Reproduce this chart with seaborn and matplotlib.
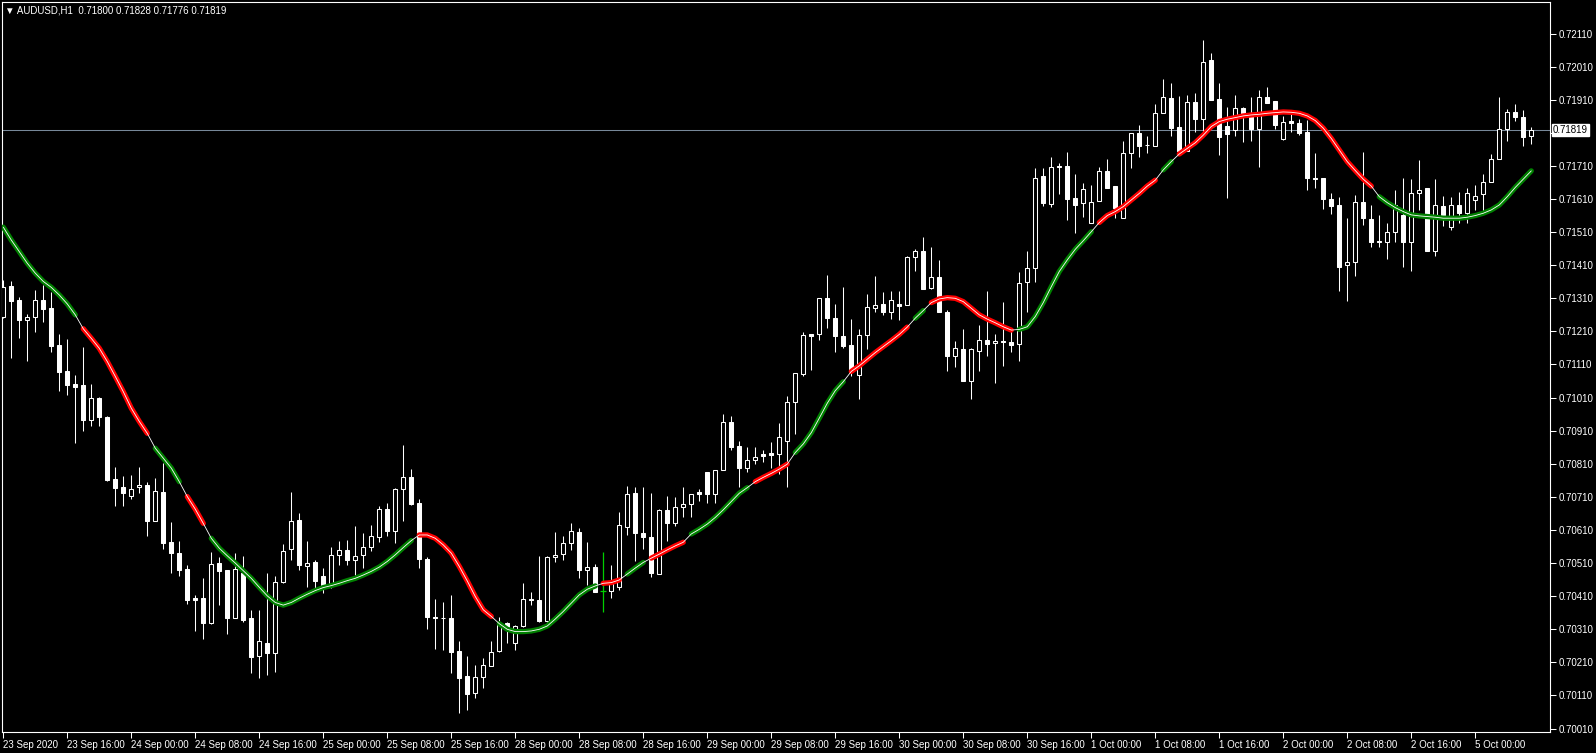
import numpy as np
import pandas as pd
import seaborn as sns
import matplotlib
matplotlib.use("Agg")
import matplotlib.pyplot as plt

# AUDUSD H1 candles, 23 Sep 2020 08:00 -> 5 Oct 2020 07:00
opens = [0.71253, 0.71347, 0.71305, 0.71245, 0.71253, 0.71304, 0.71280, 0.71168, 0.71090, 0.71051,
         0.71048, 0.70941, 0.71008, 0.70952, 0.70764, 0.70740, 0.70714, 0.70739, 0.70746, 0.70638,
         0.70725, 0.70574, 0.70542, 0.70492, 0.70404, 0.70405, 0.70330, 0.70509, 0.70489, 0.70345,
         0.70479, 0.70344, 0.70230, 0.70269, 0.70238, 0.70452, 0.70552, 0.70641, 0.70501, 0.70512,
         0.70470, 0.70440, 0.70534, 0.70550, 0.70518, 0.70534, 0.70558, 0.70590, 0.70674, 0.70608,
         0.70733, 0.70770, 0.70691, 0.70523, 0.70348, 0.70345, 0.70345, 0.70245, 0.70169, 0.70117,
         0.70165, 0.70198, 0.70243, 0.70330, 0.70268, 0.70321, 0.70401, 0.70399, 0.70336, 0.70528,
         0.70536, 0.70570, 0.70604, 0.70488, 0.70499, 0.70426, 0.70426, 0.70439, 0.70620, 0.70721,
         0.70600, 0.70588, 0.70476, 0.70671, 0.70632, 0.70679, 0.70688, 0.70726, 0.70785, 0.70719,
         0.70790, 0.70936, 0.70864, 0.70797, 0.70820, 0.70839, 0.70842, 0.70839, 0.70880, 0.70996,
         0.71082, 0.71201, 0.71201, 0.71310, 0.71250, 0.71196, 0.71168, 0.71077, 0.71199, 0.71280,
         0.71293, 0.71270, 0.71293, 0.71291, 0.71434, 0.71452, 0.71340, 0.71374, 0.71269, 0.71137,
         0.71157, 0.71061, 0.71152, 0.71184, 0.71174, 0.71180, 0.71179, 0.71171, 0.71359, 0.71401,
         0.71680, 0.71594, 0.71710, 0.71710, 0.71612, 0.71597, 0.71539, 0.71605, 0.71695, 0.71649,
         0.71554, 0.71748, 0.71808, 0.71773, 0.71771, 0.71869, 0.71914, 0.71827, 0.71756, 0.71902,
         0.71853, 0.72030, 0.71911, 0.71831, 0.71819, 0.71884, 0.71869, 0.71820, 0.71917, 0.71906,
         0.71791, 0.71846, 0.71841, 0.71811, 0.71674, 0.71674, 0.71611, 0.71591, 0.71411, 0.71421,
         0.71600, 0.71550, 0.71483, 0.71479, 0.71511, 0.71562, 0.71481, 0.71627, 0.71642, 0.71454,
         0.71589, 0.71525, 0.71591, 0.71569, 0.71607, 0.71624, 0.71660, 0.71730, 0.71821, 0.71872,
         0.71857, 0.71800]
highs = [0.71366, 0.71363, 0.71315, 0.71263, 0.71335, 0.71350, 0.71330, 0.71201, 0.71187, 0.71079,
         0.71164, 0.71051, 0.71013, 0.70955, 0.70800, 0.70773, 0.70776, 0.70800, 0.70754, 0.70766,
         0.70812, 0.70633, 0.70577, 0.70505, 0.70414, 0.70464, 0.70545, 0.70528, 0.70489, 0.70540,
         0.70530, 0.70369, 0.70369, 0.70479, 0.70471, 0.70568, 0.70724, 0.70661, 0.70577, 0.70520,
         0.70495, 0.70560, 0.70577, 0.70580, 0.70622, 0.70600, 0.70626, 0.70683, 0.70691, 0.70736,
         0.70867, 0.70794, 0.70703, 0.70527, 0.70402, 0.70392, 0.70414, 0.70276, 0.70228, 0.70203,
         0.70223, 0.70276, 0.70347, 0.70332, 0.70322, 0.70449, 0.70424, 0.70532, 0.70530, 0.70603,
         0.70592, 0.70631, 0.70617, 0.70573, 0.70508, 0.70543, 0.70505, 0.70664, 0.70743, 0.70739,
         0.70741, 0.70721, 0.70674, 0.70713, 0.70711, 0.70741, 0.70718, 0.70733, 0.70785, 0.70792,
         0.70960, 0.70953, 0.70879, 0.70860, 0.70860, 0.70852, 0.70877, 0.70934, 0.71015, 0.71084,
         0.71208, 0.71201, 0.71310, 0.71381, 0.71293, 0.71345, 0.71248, 0.71217, 0.71323, 0.71378,
         0.71330, 0.71332, 0.71333, 0.71438, 0.71458, 0.71494, 0.71464, 0.71426, 0.71275, 0.71182,
         0.71217, 0.71161, 0.71229, 0.71332, 0.71202, 0.71299, 0.71216, 0.71390, 0.71453, 0.71705,
         0.71703, 0.71738, 0.71720, 0.71751, 0.71686, 0.71659, 0.71652, 0.71708, 0.71730, 0.71649,
         0.71785, 0.71810, 0.71834, 0.71800, 0.71897, 0.71972, 0.71959, 0.71921, 0.71924, 0.71929,
         0.72090, 0.72052, 0.71960, 0.71887, 0.71924, 0.71887, 0.71917, 0.71939, 0.71947, 0.71906,
         0.71861, 0.71869, 0.71851, 0.71849, 0.71750, 0.71674, 0.71629, 0.71615, 0.71554, 0.71622,
         0.71753, 0.71592, 0.71562, 0.71539, 0.71637, 0.71673, 0.71670, 0.71728, 0.71642, 0.71670,
         0.71620, 0.71615, 0.71632, 0.71642, 0.71652, 0.71685, 0.71746, 0.71919, 0.71881, 0.71897,
         0.71879, 0.71828]
lows = [0.71250, 0.71131, 0.71191, 0.71122, 0.71209, 0.71237, 0.71149, 0.71031, 0.71018, 0.70874,
        0.70910, 0.70925, 0.70925, 0.70759, 0.70684, 0.70684, 0.70703, 0.70721, 0.70593, 0.70638,
        0.70552, 0.70479, 0.70472, 0.70387, 0.70306, 0.70280, 0.70325, 0.70382, 0.70295, 0.70345,
        0.70333, 0.70177, 0.70162, 0.70172, 0.70182, 0.70449, 0.70520, 0.70489, 0.70439, 0.70429,
        0.70419, 0.70435, 0.70505, 0.70503, 0.70475, 0.70495, 0.70548, 0.70575, 0.70592, 0.70572,
        0.70636, 0.70686, 0.70495, 0.70311, 0.70250, 0.70248, 0.70177, 0.70057, 0.70067, 0.70102,
        0.70134, 0.70198, 0.70241, 0.70270, 0.70248, 0.70318, 0.70382, 0.70332, 0.70331, 0.70512,
        0.70520, 0.70550, 0.70465, 0.70444, 0.70424, 0.70361, 0.70406, 0.70429, 0.70595, 0.70515,
        0.70552, 0.70469, 0.70476, 0.70578, 0.70623, 0.70648, 0.70648, 0.70699, 0.70691, 0.70691,
        0.70790, 0.70852, 0.70741, 0.70786, 0.70809, 0.70815, 0.70797, 0.70779, 0.70739, 0.70900,
        0.71075, 0.71094, 0.71184, 0.71219, 0.71149, 0.71159, 0.71075, 0.71007, 0.71158, 0.71270,
        0.71260, 0.71247, 0.71245, 0.71291, 0.71391, 0.71339, 0.71337, 0.71269, 0.71089, 0.71101,
        0.71061, 0.71005, 0.71089, 0.71136, 0.71055, 0.71106, 0.71149, 0.71122, 0.71270, 0.71358,
        0.71589, 0.71587, 0.71625, 0.71547, 0.71508, 0.71557, 0.71539, 0.71605, 0.71644, 0.71552,
        0.71552, 0.71705, 0.71738, 0.71748, 0.71771, 0.71869, 0.71800, 0.71756, 0.71756, 0.71813,
        0.71813, 0.71909, 0.71743, 0.71614, 0.71801, 0.71783, 0.71786, 0.71706, 0.71901, 0.71821,
        0.71788, 0.71813, 0.71803, 0.71637, 0.71642, 0.71580, 0.71565, 0.71333, 0.71303, 0.71376,
        0.71530, 0.71466, 0.71466, 0.71428, 0.71479, 0.71406, 0.71391, 0.71577, 0.71453, 0.71439,
        0.71527, 0.71515, 0.71539, 0.71539, 0.71577, 0.71569, 0.71660, 0.71730, 0.71786, 0.71847,
        0.71771, 0.71776]
closes = [0.71343, 0.71303, 0.71243, 0.71253, 0.71304, 0.71277, 0.71167, 0.71086, 0.71049, 0.71043,
          0.70941, 0.71008, 0.70951, 0.70761, 0.70738, 0.70723, 0.70733, 0.70745, 0.70638, 0.70728,
          0.70572, 0.70539, 0.70489, 0.70399, 0.70400, 0.70330, 0.70508, 0.70487, 0.70345, 0.70492,
          0.70338, 0.70225, 0.70274, 0.70237, 0.70452, 0.70548, 0.70637, 0.70505, 0.70510, 0.70456,
          0.70437, 0.70535, 0.70550, 0.70518, 0.70532, 0.70558, 0.70592, 0.70674, 0.70608, 0.70734,
          0.70770, 0.70689, 0.70522, 0.70346, 0.70345, 0.70343, 0.70240, 0.70164, 0.70115, 0.70165,
          0.70202, 0.70241, 0.70324, 0.70315, 0.70321, 0.70401, 0.70397, 0.70336, 0.70528, 0.70534,
          0.70570, 0.70607, 0.70488, 0.70499, 0.70424, 0.70426, 0.70452, 0.70625, 0.70719, 0.70600,
          0.70588, 0.70479, 0.70671, 0.70632, 0.70679, 0.70689, 0.70718, 0.70718, 0.70719, 0.70792,
          0.70936, 0.70862, 0.70797, 0.70822, 0.70832, 0.70835, 0.70838, 0.70890, 0.70996, 0.71084,
          0.71198, 0.71197, 0.71310, 0.71249, 0.71197, 0.71166, 0.71092, 0.71198, 0.71283, 0.71289,
          0.71270, 0.71305, 0.71288, 0.71434, 0.71452, 0.71339, 0.71373, 0.71269, 0.71137, 0.71160,
          0.71061, 0.71156, 0.71184, 0.71172, 0.71181, 0.71179, 0.71169, 0.71355, 0.71401, 0.71672,
          0.71597, 0.71706, 0.71706, 0.71611, 0.71593, 0.71639, 0.71602, 0.71695, 0.71644, 0.71582,
          0.71748, 0.71808, 0.71771, 0.71773, 0.71871, 0.71917, 0.71826, 0.71756, 0.71902, 0.71853,
          0.72025, 0.71909, 0.71798, 0.71806, 0.71884, 0.71866, 0.71820, 0.71919, 0.71901, 0.71834,
          0.71842, 0.71841, 0.71809, 0.71672, 0.71671, 0.71609, 0.71590, 0.71406, 0.71421, 0.71600,
          0.71552, 0.71481, 0.71479, 0.71511, 0.71592, 0.71481, 0.71627, 0.71637, 0.71453, 0.71591,
          0.71555, 0.71591, 0.71569, 0.71629, 0.71619, 0.71660, 0.71730, 0.71821, 0.71872, 0.71859,
          0.71798, 0.71819]

# smoothed line drawn over the candles
ma_line = [0.71525, 0.71486, 0.71451, 0.71416, 0.71386, 0.71361, 0.71343, 0.71320, 0.71293, 0.71260,
           0.71218, 0.71189, 0.71159, 0.71119, 0.71074, 0.71028, 0.70978, 0.70938, 0.70902, 0.70857,
           0.70827, 0.70797, 0.70756, 0.70711, 0.70673, 0.70630, 0.70585, 0.70555, 0.70532, 0.70510,
           0.70487, 0.70464, 0.70437, 0.70411, 0.70391, 0.70383, 0.70391, 0.70404, 0.70416, 0.70427,
           0.70436, 0.70442, 0.70449, 0.70457, 0.70464, 0.70474, 0.70485, 0.70498, 0.70515, 0.70535,
           0.70557, 0.70578, 0.70595, 0.70595, 0.70585, 0.70565, 0.70540, 0.70500, 0.70456, 0.70409,
           0.70369, 0.70349, 0.70327, 0.70310, 0.70303, 0.70303, 0.70305, 0.70310, 0.70320, 0.70341,
           0.70364, 0.70389, 0.70414, 0.70431, 0.70441, 0.70449, 0.70451, 0.70459, 0.70477, 0.70495,
           0.70512, 0.70525, 0.70537, 0.70550, 0.70562, 0.70573, 0.70598, 0.70612, 0.70628, 0.70648,
           0.70671, 0.70696, 0.70721, 0.70738, 0.70756, 0.70769, 0.70781, 0.70794, 0.70809, 0.70844,
           0.70870, 0.70904, 0.70948, 0.70993, 0.71031, 0.71058, 0.71089, 0.71106, 0.71126, 0.71146,
           0.71164, 0.71182, 0.71201, 0.71223, 0.71250, 0.71273, 0.71297, 0.71308, 0.71312, 0.71310,
           0.71300, 0.71280, 0.71260, 0.71247, 0.71236, 0.71224, 0.71214, 0.71216, 0.71224, 0.71255,
           0.71297, 0.71345, 0.71391, 0.71426, 0.71458, 0.71484, 0.71511, 0.71539, 0.71560, 0.71572,
           0.71587, 0.71607, 0.71627, 0.71649, 0.71667, 0.71698, 0.71723, 0.71746, 0.71763, 0.71780,
           0.71803, 0.71829, 0.71844, 0.71851, 0.71856, 0.71861, 0.71864, 0.71866, 0.71869, 0.71871,
           0.71873, 0.71872, 0.71869, 0.71861, 0.71847, 0.71824, 0.71793, 0.71758, 0.71723, 0.71696,
           0.71670, 0.71649, 0.71617, 0.71599, 0.71584, 0.71572, 0.71562, 0.71559, 0.71557, 0.71555,
           0.71552, 0.71552, 0.71552, 0.71555, 0.71560, 0.71567, 0.71577, 0.71592, 0.71617, 0.71645,
           0.71670, 0.71695]
# (first bar, last bar, colour) of the coloured pieces of the line
ma_parts = [(0, 9, "green"), (10, 18, "red"), (19, 22, "green"), (23, 25, "red"),
            (26, 51, "green"), (52, 61, "red"), (62, 74, "green"), (75, 77, "red"),
            (78, 80, "green"), (81, 85, "red"), (86, 93, "green"), (94, 98, "red"),
            (99, 105, "green"), (106, 113, "red"), (114, 115, "green"), (116, 126, "red"),
            (127, 136, "green"), (137, 144, "red"), (145, 146, "green"), (147, 171, "red"),
            (172, 191, "green")]
marked_bar = 75

date_labels = ["23 Sep 2020", "23 Sep 16:00", "24 Sep 00:00", "24 Sep 08:00", "24 Sep 16:00",
               "25 Sep 00:00", "25 Sep 08:00", "25 Sep 16:00", "28 Sep 00:00", "28 Sep 08:00",
               "28 Sep 16:00", "29 Sep 00:00", "29 Sep 08:00", "29 Sep 16:00", "30 Sep 00:00",
               "30 Sep 08:00", "30 Sep 16:00", "1 Oct 00:00", "1 Oct 08:00", "1 Oct 16:00",
               "2 Oct 00:00", "2 Oct 08:00", "2 Oct 16:00", "5 Oct 00:00"]
price_ticks = [0.70010, 0.70110, 0.70210, 0.70310, 0.70410, 0.70510, 0.70610, 0.70710,
               0.70810, 0.70910, 0.71010, 0.71110, 0.71210, 0.71310, 0.71410, 0.71510,
               0.71610, 0.71710, 0.71810, 0.71910, 0.72010, 0.72110]
bid = 0.71819
header = "\u25bc AUDUSD,H1  0.71800 0.71828 0.71776 0.71819"

sns.set_theme(style="dark")
plt.rcParams["font.family"] = ["Liberation Sans", "DejaVu Sans"]

W, H = 1596, 753
fig = plt.figure(figsize=(W / 100, H / 100), dpi=100, facecolor="black")
ax = fig.add_axes([2 / W, (H - 731.5) / H, 1548 / W, 729.5 / H])
ax.set_facecolor("black")

df = pd.DataFrame({"bar": np.arange(len(closes)), "open": opens, "high": highs,
                   "low": lows, "close": closes})
normal = df[df.bar != marked_bar]
up = normal.close >= normal.open

# wicks then bodies (bull = hollow, bear = white)
ax.vlines(normal.bar, normal.low, normal.high, color="white", lw=0.75, zorder=2)
body_lo = np.minimum(normal.open, normal.close)
body_h = np.maximum((normal.close - normal.open).abs(), 0.000004)
ax.bar(normal.bar, body_h, bottom=body_lo, width=0.5,
       color=np.where(up, "black", "white"), edgecolor="white", linewidth=0.75, zorder=3)

mk = df[df.bar == marked_bar].iloc[0]
ax.vlines(mk.bar, mk.low, mk.high, color="#00d000", lw=0.9, zorder=3)
ax.hlines(mk.open, mk.bar - 0.35, mk.bar + 0.35, color="#00d000", lw=0.9, zorder=3)

ax.axhline(bid, color="#778899", lw=0.75, zorder=1)

rows = []
for k, (a, b, c) in enumerate(ma_parts):
    for i in range(a, b + 1):
        rows.append((i, ma_line[i], k, c))
seg = pd.DataFrame(rows, columns=["bar", "ma", "part", "colour"])
sns.lineplot(data=seg, x="bar", y="ma", hue="colour", units="part", estimator=None,
             palette={"green": "#008000", "red": "#ff0000"}, lw=3.8, legend=False,
             solid_capstyle="round", ax=ax, zorder=4)
sns.lineplot(x=df.bar, y=ma_line, color="white", lw=0.6, ax=ax, zorder=5)

ax.set_xlim(-0.16, 193.34)
ax.set_ylim(0.700012, 0.722052)
ax.set_xlabel("")
ax.set_ylabel("")
ax.grid(False)
for s in ax.spines.values():
    s.set_visible(True)
    s.set_color("white")
    s.set_linewidth(0.8)

ax.yaxis.tick_right()
ax.set_yticks(price_ticks)
# the 0.71810 label sits under the bid box in the reference
ax.set_yticklabels(["" if abs(v - bid) < 0.0003 else f"{v:.5f}" for v in price_ticks])
ax.set_xticks(df.bar[::8])
ax.set_xticklabels(date_labels, ha="left")
ax.tick_params(axis="both", colors="white", labelcolor="white", width=0.75, length=4,
               labelsize=7, direction="out")
ax.tick_params(axis="y", pad=2, right=True, left=False)
ax.tick_params(axis="x", pad=2, bottom=True)

fig.text(1553 / W, 1 - 130 / H, f"{bid:.5f}", color="black", fontsize=7, va="center",
         ha="left", bbox=dict(facecolor="white", edgecolor="white", pad=1.0))
fig.text(5 / W, 1 - 10.5 / H, header, color="white", fontsize=7, va="center", ha="left")

fig.savefig("out.png", dpi=100, facecolor="black")
